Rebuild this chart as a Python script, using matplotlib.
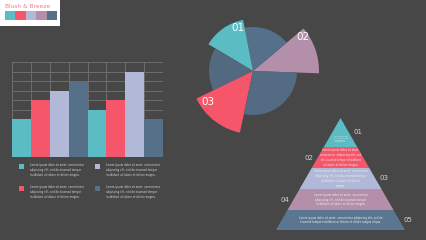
import matplotlib
matplotlib.use('Agg')
import matplotlib.pyplot as plt
from matplotlib.patches import Rectangle
import numpy as np

W, H = 426, 240

# palette "Blush & Breeze"
palette = ['#5BBCC3', '#F5566A', '#B2B8D8', '#B48FAA', '#56708A']
palette_title = 'Blush & Breeze'

# bar chart data
bar_values = [4, 6, 7, 8, 5, 6, 9, 4]
bar_colors = [palette[0], palette[1], palette[2], palette[4]] * 2

# legend under the bars
legend_colors = [palette[0], palette[2], palette[1], palette[4]]
legend_text = ('Lorem ipsum dolor sit amet, consectetur\n'
               'adipiscing elit, sed do eiusmod tempor\n'
               'incididunt ut labore et dolore magna.')

# pie data (slice sizes in degrees, starting at -2 deg)
slice_sizes = [42, 61, 48, 57, 52, 100]
slice_colors = [palette[3], '#55708A', palette[0], '#52697F', palette[1], '#536C84']
slice_radii = [66, 44, 52, 44, 63, 44]
pie_labels = {0: '02', 2: '01', 4: '03'}

# pyramid data
layer_names = ['01', '02', '03', '04', '05']
layer_heights = [29, 21, 21, 21, 20]
layer_colors = [palette[0], palette[1], palette[2], palette[3], '#5A7690']
layer_text = [
    'Lorem ipsum\ndolor sit amet,\nconsectetur\nadipiscing',
    'Lorem ipsum dolor sit amet,\nconsectetur adipiscing elit, sed\ndo eiusmod tempor incididunt\nut labore et dolore magna',
    'Lorem ipsum dolor sit amet, consectetur\nadipiscing elit, sed do eiusmod tempor\nincididunt ut labore et dolore\nmagna',
    'Lorem ipsum dolor sit amet, consectetur\nadipiscing elit, sed do eiusmod tempor\nincididunt ut labore et dolore magna',
    'Lorem ipsum dolor sit amet, consectetur adipiscing elit, sed do\neiusmod tempor incididunt ut labore et dolore magna aliqua',
]

bg = '#474747'
grid_c = '#6e6e6e'


def px_box(x0, y0, x1, y1):
    return [x0 / W, 1 - y1 / H, (x1 - x0) / W, (y1 - y0) / H]


fig = plt.figure(figsize=(W / 100, H / 100), dpi=100, facecolor=bg)

# ===== title box =====
fig.patches.append(Rectangle((0, 1 - 26 / H), 60 / W, 26 / H, transform=fig.transFigure,
                             facecolor='white', edgecolor='none'))
fig.text(5 / W, 1 - 7 / H, palette_title, color='#F27C8C', fontsize=4.2,
         va='center', ha='left')
sw = 10.4
for i, c in enumerate(palette):
    fig.patches.append(Rectangle(((5 + i * sw) / W, 1 - 20 / H), sw / W, 9 / H,
                                 transform=fig.transFigure, facecolor=c, edgecolor='none'))

# ===== bar chart =====
ax = fig.add_axes(px_box(12, 62, 163, 157))
ax.set_facecolor('none')
ax.bar(range(len(bar_values)), bar_values, width=1.0, color=bar_colors, zorder=2)
ax.set_xlim(-0.5, len(bar_values) - 0.5)
ax.set_ylim(0, 10)
ax.set_xticks(np.arange(-0.5, len(bar_values), 1.0))
ax.set_yticks(range(0, 11))
ax.grid(True, color=grid_c, linewidth=0.7)
ax.set_axisbelow(True)
ax.tick_params(length=0, labelbottom=False, labelleft=False)
for s in ax.spines.values():
    s.set_visible(False)

# legend squares + text
for i, c in enumerate(legend_colors):
    x0 = 19 + (i % 2) * 76
    y0 = 164 + (i // 2) * 22
    fig.patches.append(Rectangle((x0 / W, 1 - (y0 + 5) / H), 5 / W, 5 / H,
                                 transform=fig.transFigure, facecolor=c, edgecolor='none'))
    fig.text((x0 + 11) / W, 1 - (y0 - 1) / H, legend_text, color='#d8d8d8',
             fontsize=1.9, va='top', ha='left', linespacing=1.35)

# ===== pie =====
pax = fig.add_axes(px_box(173, 0, 333, 150))
wedges, _ = pax.pie(slice_sizes, colors=slice_colors, startangle=-2,
                    counterclock=True, radius=1)
for w, r in zip(wedges, slice_radii):
    w.set_radius(r)
    w.set_edgecolor('none')
pax.set_xlim(-80, 80)
pax.set_ylim(-79, 71)
label_pos = {0: (-6, 0.91), 2: (8, 0.88), 4: (9, 0.87)}
for i, lab in pie_labels.items():
    w = wedges[i]
    off, rf = label_pos[i]
    th = w.theta2 + off if off < 0 else w.theta1 + off
    r = slice_radii[i] * rf
    pax.text(r * np.cos(np.radians(th)), r * np.sin(np.radians(th)), lab,
             color='white', fontsize=7.5, ha='center', va='center')

# ===== pyramid =====
yax = fig.add_axes(px_box(276, 118, 405, 230))
yax.set_xlim(-0.5, 0.5)
yax.set_ylim(1, 0)
yax.axis('off')
edges = np.concatenate([[0], np.cumsum(layer_heights)]) / sum(layer_heights)
for i, (name, c) in enumerate(zip(layer_names, layer_colors)):
    t, b = edges[i], edges[i + 1]
    yax.fill([-t / 2, t / 2, b / 2, -b / 2], [t, t, b, b], color=c, lw=0)
    mid = (t + b) / 2
    side = 1 if i % 2 == 0 else -1
    yax.text(side * (mid / 2 + 0.07), mid, name, color='#d0d0d0', fontsize=5,
             ha='center', va='center', clip_on=False)
    yax.text(0, mid + (0.06 if i == 0 else 0), layer_text[i], color='#eeeeee',
             fontsize=1.5 if i == 0 else 1.9, ha='center', va='center', linespacing=1.3)

fig.savefig('out.png', dpi=100, facecolor=bg)
